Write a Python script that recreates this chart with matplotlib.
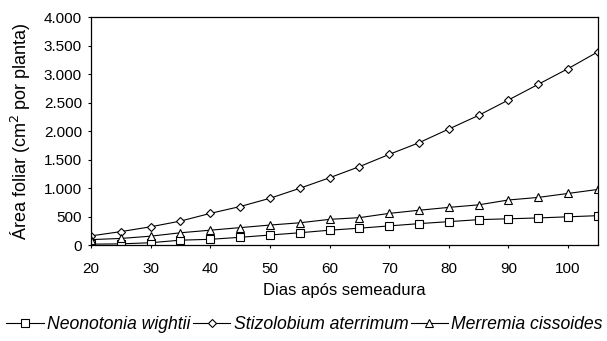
# Área foliar de três espécies ao longo dos dias após semeadura
import matplotlib
matplotlib.use('Agg')
import matplotlib.pyplot as plt
from matplotlib.ticker import FuncFormatter, MultipleLocator

plt.rcParams['font.family'] = ['Liberation Sans', 'DejaVu Sans']

dias = [20, 25, 30, 35, 40, 45, 50, 55, 60, 65, 70, 75, 80, 85, 90, 95, 100, 105]

neonotonia = [15, 20, 40, 85, 100, 135, 175, 215, 260, 295, 335, 375, 410, 445, 460, 475, 495, 515]
stizolobium = [160, 235, 320, 420, 555, 675, 820, 995, 1180, 1375, 1590, 1795, 2035, 2275, 2545, 2820, 3095, 3390]
merremia = [95, 115, 155, 215, 260, 305, 350, 390, 450, 480, 555, 610, 660, 705, 790, 835, 905, 975]

# nome, valores, marcador, tamanho no gráfico, tamanho na legenda
series = [
    ('Neonotonia wightii', neonotonia, 's', 5.3, 6),
    ('Stizolobium aterrimum', stizolobium, 'D', 4.2, 3.6),
    ('Merremia cissoides', merremia, '^', 6.2, 5.5),
]


def milhar(v, pos):
    # separador de milhar com ponto
    return f'{int(v):,}'.replace(',', '.')


fig = plt.figure(figsize=(6.07, 3.41), dpi=100)
ax = fig.add_axes([0.150, 0.2815, 0.835, 0.6685])

for nome, valores, marcador, tam, _ in series:
    ax.plot(dias, valores, color='black', linewidth=0.8, marker=marcador,
            markersize=tam, markerfacecolor='white', markeredgecolor='black',
            markeredgewidth=0.8, label=nome)

ax.set_xlim(20, 105)
ax.set_ylim(0, 4000)
ax.yaxis.set_major_locator(MultipleLocator(500))
ax.yaxis.set_major_formatter(FuncFormatter(milhar))
ax.set_xticks(range(20, 101, 10))
ax.tick_params(axis='both', labelsize=11, direction='out', length=2.5, width=0.8)
ax.tick_params(axis='x', pad=10)
ax.tick_params(axis='y', pad=4)
for s in ax.spines.values():
    s.set_linewidth(0.9)

ax.set_xlabel('Dias após semeadura', fontsize=12, labelpad=5)
ax.set_ylabel('Área foliar (cm$^2$ por planta)', fontsize=13, labelpad=8)

leg = fig.legend(loc='center', bbox_to_anchor=(0.502, 0.047), ncol=3, frameon=False,
                 handlelength=2.1, columnspacing=0.15, handletextpad=0.2,
                 prop={'style': 'italic', 'size': 12.7})
for h, s in zip(leg.legend_handles, series):
    h.set_markersize(s[4])

fig.savefig('out.png', dpi=100)
